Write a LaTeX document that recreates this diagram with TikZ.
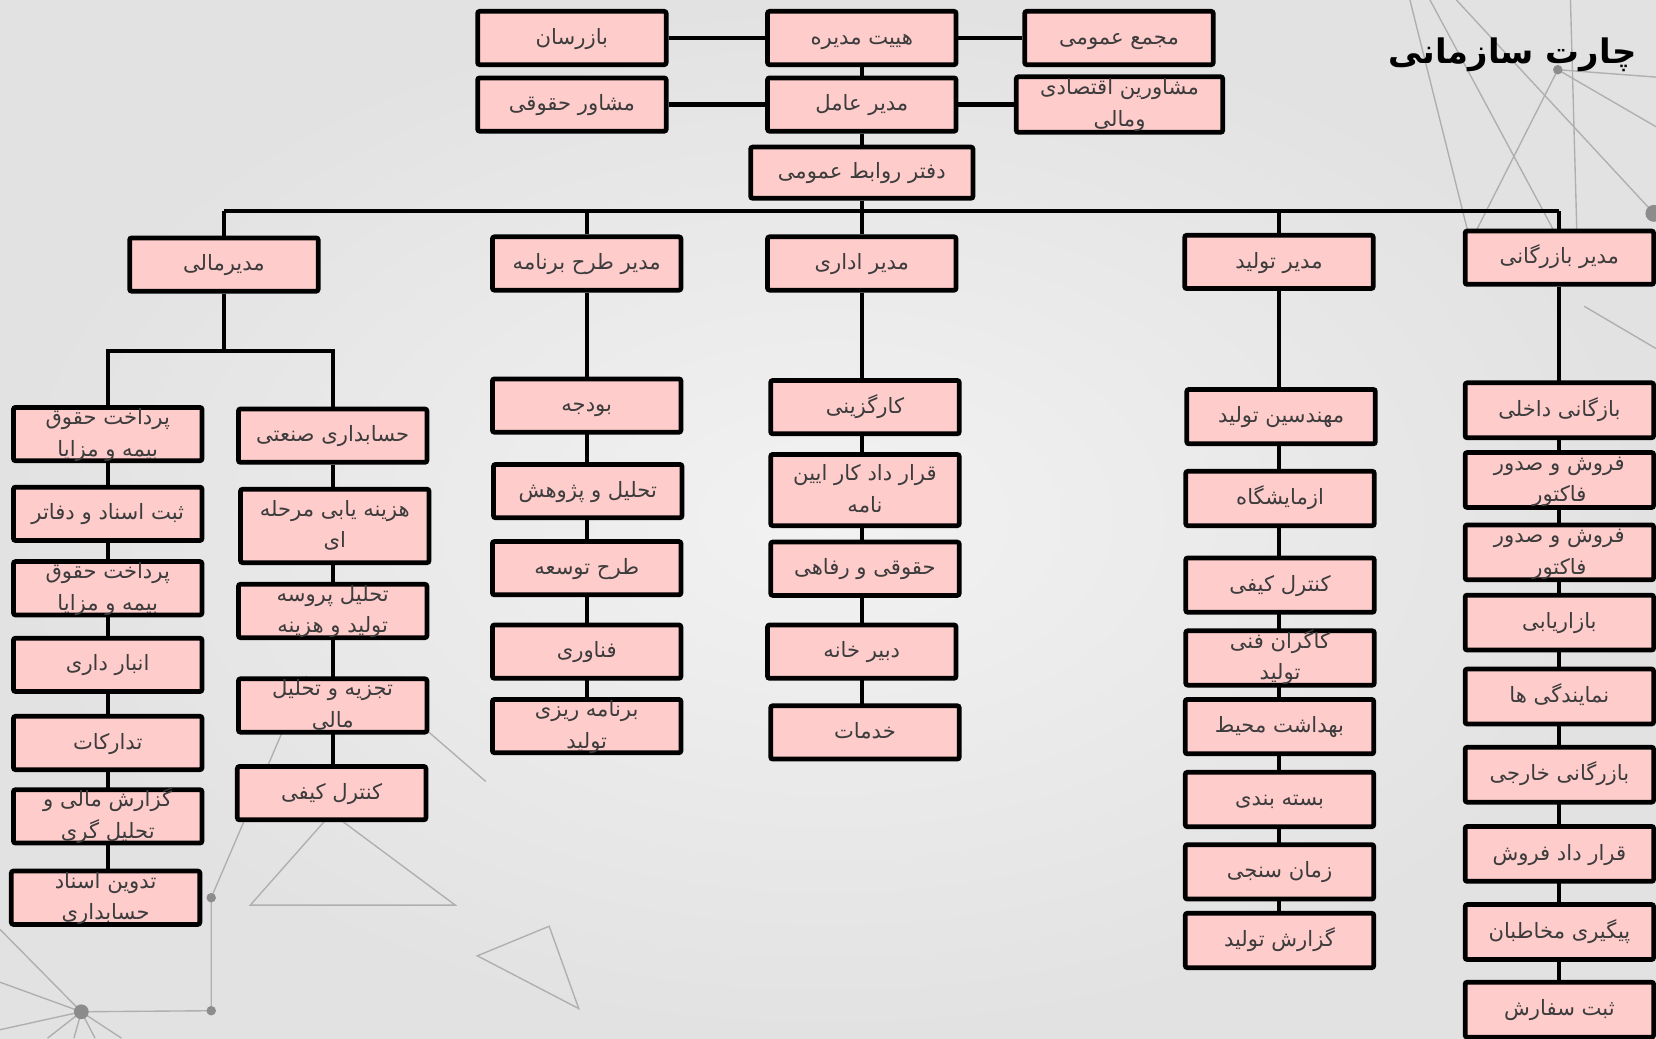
\documentclass[tikz,border=0pt]{standalone}
\usepackage{fontspec}
\newfontfamily\arfont[Script=Arabic]{DejaVu Sans}
\TeXXeTstate=1
\definecolor{boxpink}{RGB}{255,204,204}
\definecolor{txtgray}{RGB}{60,60,60}
\definecolor{bgin}{RGB}{242,242,242}
\definecolor{bgout}{RGB}{226,226,226}
\definecolor{decogray}{RGB}{175,175,175}
\definecolor{dotgray}{RGB}{140,140,140}
\newcommand\RL[1]{\beginR#1\endR}
\newcommand\bx[1]{\raisebox{-10pt}{\smash{\begin{tabular}{@{}c@{}}#1\end{tabular}}}}
\pgfdeclarelayer{deco}
\pgfdeclarelayer{links}
\pgfsetlayers{deco,links,main}
\tikzset{
  orgbox/.style={draw=black,line width=4.5pt,fill=boxpink,rounded corners=2pt,
    minimum width=178.5pt,minimum height=50.5pt,inner sep=0pt,text=txtgray,
    font=\arfont\fontsize{20}{30}\selectfont},
  tallbox/.style={minimum height=#1},
  link/.style={draw=black,line width=4pt},
  decoline/.style={draw=decogray,line width=1.3pt},
  decodot/.style={fill=dotgray,draw=none}
}
\begin{document}
\begin{tikzpicture}[x=1pt,y=-1pt]
\useasboundingbox (0,0) rectangle (1568,983);
% ---------- top ----------
\node[orgbox] (bazresan) at (541.5,36) {\bx{\RL{بازرسان}}};
\node[orgbox] (heyat) at (816,36) {\bx{\RL{هییت مدیره}}};
\node[orgbox] (majma) at (1059.5,36) {\bx{\RL{مجمع عمومی}}};
\node[orgbox] (moshaverH) at (541.5,99) {\bx{\RL{مشاور حقوقی}}};
\node[orgbox] (amel) at (816,99) {\bx{\RL{مدیر عامل}}};
\node[orgbox,minimum width=195.5pt,minimum height=52.5pt] (moshaverin) at (1060,99) {\bx{\RL{مشاورین اقتصادی}\\\RL{ومالی}}};
\node[orgbox,minimum width=210.5pt,minimum height=48.5pt] (daftar) at (816,163.5) {\bx{\RL{دفتر روابط عمومی}}};
% ---------- managers ----------
\node[orgbox] (mali) at (212,250.5) {\bx{\RL{مدیرمالی}}};
\node[orgbox] (barname) at (555.5,249.5) {\bx{\RL{مدیر طرح برنامه}}};
\node[orgbox] (edari) at (816,249.5) {\bx{\RL{مدیر اداری}}};
\node[orgbox] (tolid) at (1211,248) {\bx{\RL{مدیر تولید}}};
\node[orgbox] (bazargani) at (1476.5,244) {\bx{\RL{مدیر بازرگانی}}};
% ---------- finance left ----------
\node[orgbox] (fL1) at (102,411) {\bx{\RL{پرداخت حقوق}\\\RL{بیمه و مزایا}}};
\node[orgbox] (fL2) at (102,486.5) {\bx{\RL{ثبت اسناد و دفاتر}}};
\node[orgbox] (fL3) at (102,557) {\bx{\RL{پرداخت حقوق}\\\RL{بیمه و مزایا}}};
\node[orgbox] (fL4) at (102,629.5) {\bx{\RL{انبار داری}}};
\node[orgbox] (fL5) at (102,703.5) {\bx{\RL{تدارکات}}};
\node[orgbox] (fL6) at (102,773) {\bx{\RL{گزارش مالی و}\\\RL{تحلیل گری}}};
\node[orgbox] (fL7) at (100,850) {\bx{\RL{تدوین اسناد}\\\RL{حسابداری}}};
% ---------- finance right ----------
\node[orgbox] (fR1) at (315,412.5) {\bx{\RL{حسابداری صنعتی}}};
\node[orgbox,tallbox=69.5pt] (fR2) at (317,498) {\bx{\RL{هزینه یابی مرحله}\\\RL{ای}}};
\node[orgbox] (fR3) at (315,578.5) {\bx{\RL{تحلیل پروسه}\\\RL{تولید و هزینه}}};
\node[orgbox] (fR4) at (315,668) {\bx{\RL{تجزیه و تحلیل}\\\RL{مالی}}};
\node[orgbox] (fR5) at (314,751) {\bx{\RL{کنترل کیفی}}};
% ---------- program ----------
\node[orgbox] (p1) at (555.5,384) {\bx{\RL{بودجه}}};
\node[orgbox] (p2) at (556.5,465) {\bx{\RL{تحلیل و پژوهش}}};
\node[orgbox] (p3) at (555.5,538) {\bx{\RL{طرح توسعه}}};
\node[orgbox] (p4) at (555.5,617) {\bx{\RL{فناوری}}};
\node[orgbox] (p5) at (555.5,687.5) {\bx{\RL{برنامه ریزی}\\\RL{تولید}}};
% ---------- admin ----------
\node[orgbox] (a1) at (819,385.5) {\bx{\RL{کارگزینی}}};
\node[orgbox,tallbox=67.5pt] (a2) at (819,464) {\bx{\RL{قرار داد کار ایین}\\\RL{نامه}}};
\node[orgbox] (a3) at (819,538.5) {\bx{\RL{حقوقی و رفاهی}}};
\node[orgbox] (a4) at (816,617) {\bx{\RL{دبیر خانه}}};
\node[orgbox] (a5) at (819,693.5) {\bx{\RL{خدمات}}};
% ---------- production ----------
\node[orgbox,tallbox=51.5pt] (t1) at (1213,394.5) {\bx{\RL{مهندسین تولید}}};
\node[orgbox,tallbox=51.5pt] (t2) at (1212,472) {\bx{\RL{ازمایشگاه}}};
\node[orgbox,tallbox=51.5pt] (t3) at (1212,554) {\bx{\RL{کنترل کیفی}}};
\node[orgbox,tallbox=51.5pt] (t4) at (1212,623) {\bx{\RL{کاگران فنی}\\\RL{تولید}}};
\node[orgbox,tallbox=51.5pt] (t5) at (1211.5,688) {\bx{\RL{بهداشت محیط}}};
\node[orgbox,tallbox=51.5pt] (t6) at (1211.5,757) {\bx{\RL{بسته بندی}}};
\node[orgbox,tallbox=51.5pt] (t7) at (1211.5,825.5) {\bx{\RL{زمان سنجی}}};
\node[orgbox,tallbox=51.5pt] (t8) at (1211.5,890.5) {\bx{\RL{گزارش تولید}}};
% ---------- commerce ----------
\node[orgbox,tallbox=52pt] (c1) at (1476.5,388.5) {\bx{\RL{بازگانی داخلی}}};
\node[orgbox,tallbox=52pt] (c2) at (1476.5,454.5) {\bx{\RL{فروش و صدور}\\\RL{فاکتور}}};
\node[orgbox,tallbox=52pt] (c3) at (1476.5,523) {\bx{\RL{فروش و صدور}\\\RL{فاکتور}}};
\node[orgbox,tallbox=52pt] (c4) at (1476.5,589.5) {\bx{\RL{بازاریابی}}};
\node[orgbox,tallbox=52pt] (c5) at (1476.5,659.5) {\bx{\RL{نمایندگی ها}}};
\node[orgbox,tallbox=52pt] (c6) at (1476.5,733.5) {\bx{\RL{بازرگانی خارجی}}};
\node[orgbox,tallbox=52pt] (c7) at (1476.5,808.5) {\bx{\RL{قرار داد فروش}}};
\node[orgbox,tallbox=52pt] (c8) at (1476.5,882.5) {\bx{\RL{پیگیری مخاطبان}}};
\node[orgbox,tallbox=52pt] (c9) at (1476.5,956) {\bx{\RL{ثبت سفارش}}};
% ---------- title ----------
\node[font=\arfont\bfseries\fontsize{32}{38}\selectfont,text=black,inner sep=0pt] (title) at (1432,52) {\RL{چارت سازمانی}};
% ---------- connectors ----------
\begin{pgfonlayer}{links}
\coordinate (busL) at (212,200);
\coordinate (busR) at (1476.5,200);
\coordinate (fsplit) at (212,332);
\draw[link] (bazresan) -- (heyat);
\draw[link] (heyat) -- (majma);
\draw[link] (moshaverH) -- (amel);
\draw[link] (amel) -- (moshaverin);
\draw[link] (heyat) -- (amel);
\draw[link] (amel) -- (daftar);
\draw[link] (daftar) -- (daftar |- busL);
\draw[link] (busL) -- (busR);
\draw[link] (mali) -- (busL);
\draw[link] (barname) -- (barname |- busL);
\draw[link] (edari) -- (edari |- busL);
\draw[link] (tolid) -- (tolid |- busL);
\draw[link] (bazargani) -- (busR);
\draw[link] (mali) -- (fsplit);
\draw[link] (fL1) |- (fsplit) -| (fR1);
\draw[link] (fL1) -- (fL1 |- fL7);
\draw[link] (fR1) -- (fR1 |- fR5);
\draw[link] (barname) -- (barname |- p5);
\draw[link] (edari) -- (edari |- a5);
\draw[link] (tolid) -- (tolid |- t8);
\draw[link] (bazargani) -- (bazargani |- c9);
\end{pgfonlayer}
% ---------- background decoration ----------
\begin{pgfonlayer}{deco}
\shade[inner color=bgin,outer color=bgout] (0,0) rectangle (1568,983);
\coordinate (d1) at (1475,66);
\coordinate (d2) at (1566,202);
\coordinate (d3) at (77,958);
\coordinate (d4) at (200,850);
\coordinate (d5) at (200,957);
\draw[decoline] (1335,0) -- (1400,260);
\draw[decoline] (1354,0) -- (1471,218);
\draw[decoline] (1379,0) -- (d2);
\draw[decoline] (d1) -- (1398,218);
\draw[decoline] (1487,0) -- (1493,218);
\draw[decoline] (d1) -- (1568,73);
\draw[decoline] (d1) -- (1568,120);
\draw[decoline] (1500,290) -- (1568,330);
\draw[decoline] (d3) -- (d5) -- (d4) -- (290,640);
\draw[decoline] (d3) -- (0,880);
\draw[decoline] (d3) -- (0,930);
\draw[decoline] (d3) -- (0,975);
\draw[decoline] (d3) -- (45,983);
\draw[decoline] (d3) -- (70,983);
\draw[decoline] (d3) -- (90,983);
\draw[decoline] (d3) -- (115,983);
\draw[decoline] (237,857) -- (431,857) -- (314,770) -- cycle;
\draw[decoline] (452,905) -- (520,877) -- (548,955) -- cycle;
\draw[decoline] (400,688) -- (460,740);
\fill[decodot] (d1) circle (4.5);
\fill[decodot] (d2) circle (8);
\fill[decodot] (d3) circle (7);
\fill[decodot] (d4) circle (4.5);
\fill[decodot] (d5) circle (4.5);
\end{pgfonlayer}
\end{tikzpicture}
\end{document}
